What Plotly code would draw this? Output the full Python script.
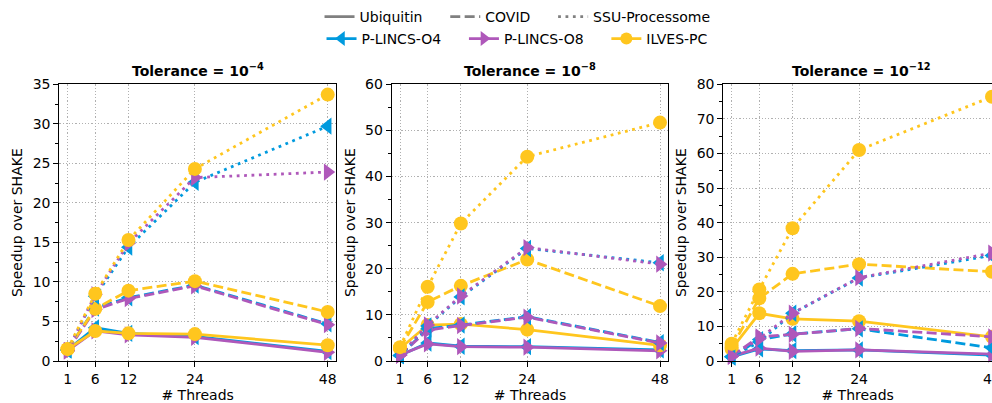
import plotly.graph_objects as go

threads = [1, 6, 12, 24, 48]
tick_labels = ["1", "6", "12", "24", "48"]
titles = ["Tolerance = 10<sup>\u22124</sup>", "Tolerance = 10<sup>\u22128</sup>", "Tolerance = 10<sup>\u221212</sup>"]
datasets = ["Ubiquitin", "COVID", "SSU-Processome"]
methods = ["P-LINCS-O4", "P-LINCS-O8", "ILVES-PC"]

# Tolerance 1e-4
t4_ubq_o4 = [1.4, 4.2, 3.5, 3.1, 1.2]
t4_ubq_o8 = [1.3, 3.8, 3.3, 3.0, 1.1]
t4_ubq_ilves = [1.5, 3.8, 3.5, 3.4, 2.0]
t4_cov_o4 = [1.4, 6.7, 8.0, 9.6, 4.7]
t4_cov_o8 = [1.3, 6.5, 7.9, 9.5, 4.6]
t4_cov_ilves = [1.5, 6.6, 8.9, 10.1, 6.2]
t4_ssu_o4 = [1.4, 8.2, 14.4, 22.6, 29.7]
t4_ssu_o8 = [1.3, 8.4, 14.9, 23.2, 23.9]
t4_ssu_ilves = [1.5, 8.5, 15.3, 24.3, 33.7]

# Tolerance 1e-8
t8_ubq_o4 = [1.2, 3.9, 3.2, 3.1, 2.4]
t8_ubq_o8 = [1.3, 3.7, 3.1, 3.0, 2.2]
t8_ubq_ilves = [2.7, 7.8, 8.0, 6.8, 3.4]
t8_cov_o4 = [1.2, 7.0, 7.8, 9.6, 4.0]
t8_cov_o8 = [1.3, 6.7, 7.7, 9.5, 3.9]
t8_cov_ilves = [2.8, 12.8, 16.3, 22.0, 11.9]
t8_ssu_o4 = [1.2, 7.6, 13.9, 24.4, 21.3]
t8_ssu_o8 = [1.3, 7.8, 14.1, 24.6, 21.0]
t8_ssu_ilves = [3.0, 16.1, 29.8, 44.3, 51.7]

# Tolerance 1e-12
t12_ubq_o4 = [1.2, 3.5, 3.0, 3.2, 1.7]
t12_ubq_o8 = [1.4, 3.7, 2.8, 3.2, 2.0]
t12_ubq_ilves = [3.5, 13.8, 12.2, 11.5, 7.0]
t12_cov_o4 = [1.2, 6.2, 7.8, 9.3, 3.8]
t12_cov_o8 = [1.4, 7.0, 7.7, 9.4, 7.0]
t12_cov_ilves = [4.0, 18.1, 25.2, 28.0, 25.8]
t12_ssu_o4 = [1.2, 5.5, 13.8, 24.0, 30.5]
t12_ssu_o8 = [1.4, 6.5, 13.8, 24.1, 31.2]
t12_ssu_ilves = [5.0, 20.7, 38.4, 61.0, 76.4]

panels = [
    [[t4_ubq_o4, t4_ubq_o8, t4_ubq_ilves], [t4_cov_o4, t4_cov_o8, t4_cov_ilves], [t4_ssu_o4, t4_ssu_o8, t4_ssu_ilves]],
    [[t8_ubq_o4, t8_ubq_o8, t8_ubq_ilves], [t8_cov_o4, t8_cov_o8, t8_cov_ilves], [t8_ssu_o4, t8_ssu_o8, t8_ssu_ilves]],
    [[t12_ubq_o4, t12_ubq_o8, t12_ubq_ilves], [t12_cov_o4, t12_cov_o8, t12_cov_ilves], [t12_ssu_o4, t12_ssu_o8, t12_ssu_ilves]],
]

colors = ["#009ADE", "#AF58BA", "#FFC61E"]
symbols = ["triangle-left", "triangle-right", "circle"]
msizes = [15, 15, 14]
dashes = ["solid", "10px,4.4px", "2.8px,4.6px"]
LW = 2.8
FONT = "DejaVu Sans"
PAD = "\u00a0" * 4

W, H = 992, 403
xdom = [(59.3 / W, 336.0 / W), (391.7 / W, 668.3 / W), (723.3 / W, 1.0)]
ydom = (1 - 361.0 / H, 1 - 84.3 / H)
yranges = [(0, 35), (0, 60), (0, 80)]
ydticks = [5, 10, 10]
xranges = [(-0.5, 49.5), (-0.5, 49.5), (-0.5, 48.0)]

fig = go.Figure()

for p in range(3):
    xa = "x" if p == 0 else f"x{p+1}"
    ya = "y" if p == 0 else f"y{p+1}"
    for d in range(3):
        for m in range(3):
            fig.add_trace(go.Scatter(
                x=threads, y=panels[p][d][m], xaxis=xa, yaxis=ya,
                mode="lines+markers", showlegend=False, cliponaxis=False,
                line=dict(color=colors[m], width=LW, dash=dashes[d]),
                marker=dict(symbol=symbols[m], size=msizes[m], color=colors[m], line=dict(width=0)),
            ))

# legend entries: line styles
for d in range(3):
    fig.add_trace(go.Scatter(
        x=[None], y=[None], mode="lines", name=datasets[d] + (PAD if d < 2 else ""), legend="legend",
        line=dict(color="#808080", width=LW, dash=dashes[d]),
    ))
for m in range(3):
    fig.add_trace(go.Scatter(
        x=[None], y=[None], mode="lines+markers", name=methods[m] + (PAD if m < 2 else ""), legend="legend2",
        line=dict(color=colors[m], width=LW),
        marker=dict(symbol=symbols[m], size=msizes[m] - 2, color=colors[m]),
    ))

layout = dict(
    width=W, height=H,
    margin=dict(l=0, r=0, t=0, b=0, autoexpand=False),
    paper_bgcolor="white", plot_bgcolor="white",
    font=dict(family=FONT, size=14, color="black"),
    legend=dict(orientation="h", x=0.5217, xanchor="center", y=1 - 17 / H, yanchor="middle",
                font=dict(size=14, family=FONT), bgcolor="rgba(0,0,0,0)", itemwidth=30,
                tracegroupgap=0),
    legend2=dict(orientation="h", x=0.5217, xanchor="center", y=1 - 39 / H, yanchor="middle",
                 font=dict(size=14, family=FONT), bgcolor="rgba(0,0,0,0)", itemwidth=30,
                 tracegroupgap=0),
    annotations=[],
)

axis_common = dict(
    showline=True, linecolor="black", linewidth=1,
    ticks="outside", ticklen=5, tickwidth=1, tickcolor="black",
    showgrid=True, gridcolor="#b0b0b0", gridwidth=0.8, griddash="1.2px,2px",
    zeroline=False, tickfont=dict(size=14, family=FONT, color="black"),
    ticklabeloverflow="allow",
)

for p in range(3):
    xk = "xaxis" if p == 0 else f"xaxis{p+1}"
    yk = "yaxis" if p == 0 else f"yaxis{p+1}"
    xa = "x" if p == 0 else f"x{p+1}"
    ya = "y" if p == 0 else f"y{p+1}"
    layout[xk] = dict(
        axis_common, domain=list(xdom[p]), anchor=ya, range=list(xranges[p]),
        tickmode="array", tickvals=threads, ticktext=tick_labels, mirror=True,
        title=dict(text="# Threads", font=dict(size=14, family=FONT), standoff=6),
    )
    layout[yk] = dict(
        axis_common, domain=list(ydom), anchor=xa, range=list(yranges[p]),
        tick0=0, dtick=ydticks[p], mirror=(p < 2),
        minor=dict(dtick=ydticks[p] / 2, ticks="outside", ticklen=3, tickcolor="black", showgrid=False),
        title=dict(text="Speedup over SHAKE", font=dict(size=14, family=FONT), standoff=6),
    )
    layout["annotations"].append(dict(
        text="<b>" + titles[p] + "</b>", x=(xdom[p][0] + xdom[p][1]) / 2 if p < 2 else (723.3 + 277 / 2) / W,
        y=1 - 70 / H, xref="paper", yref="paper", xanchor="center", yanchor="middle",
        showarrow=False, font=dict(size=14, family=FONT, color="black"),
    ))

fig.update_layout(**layout)
fig.write_html("out.html")
